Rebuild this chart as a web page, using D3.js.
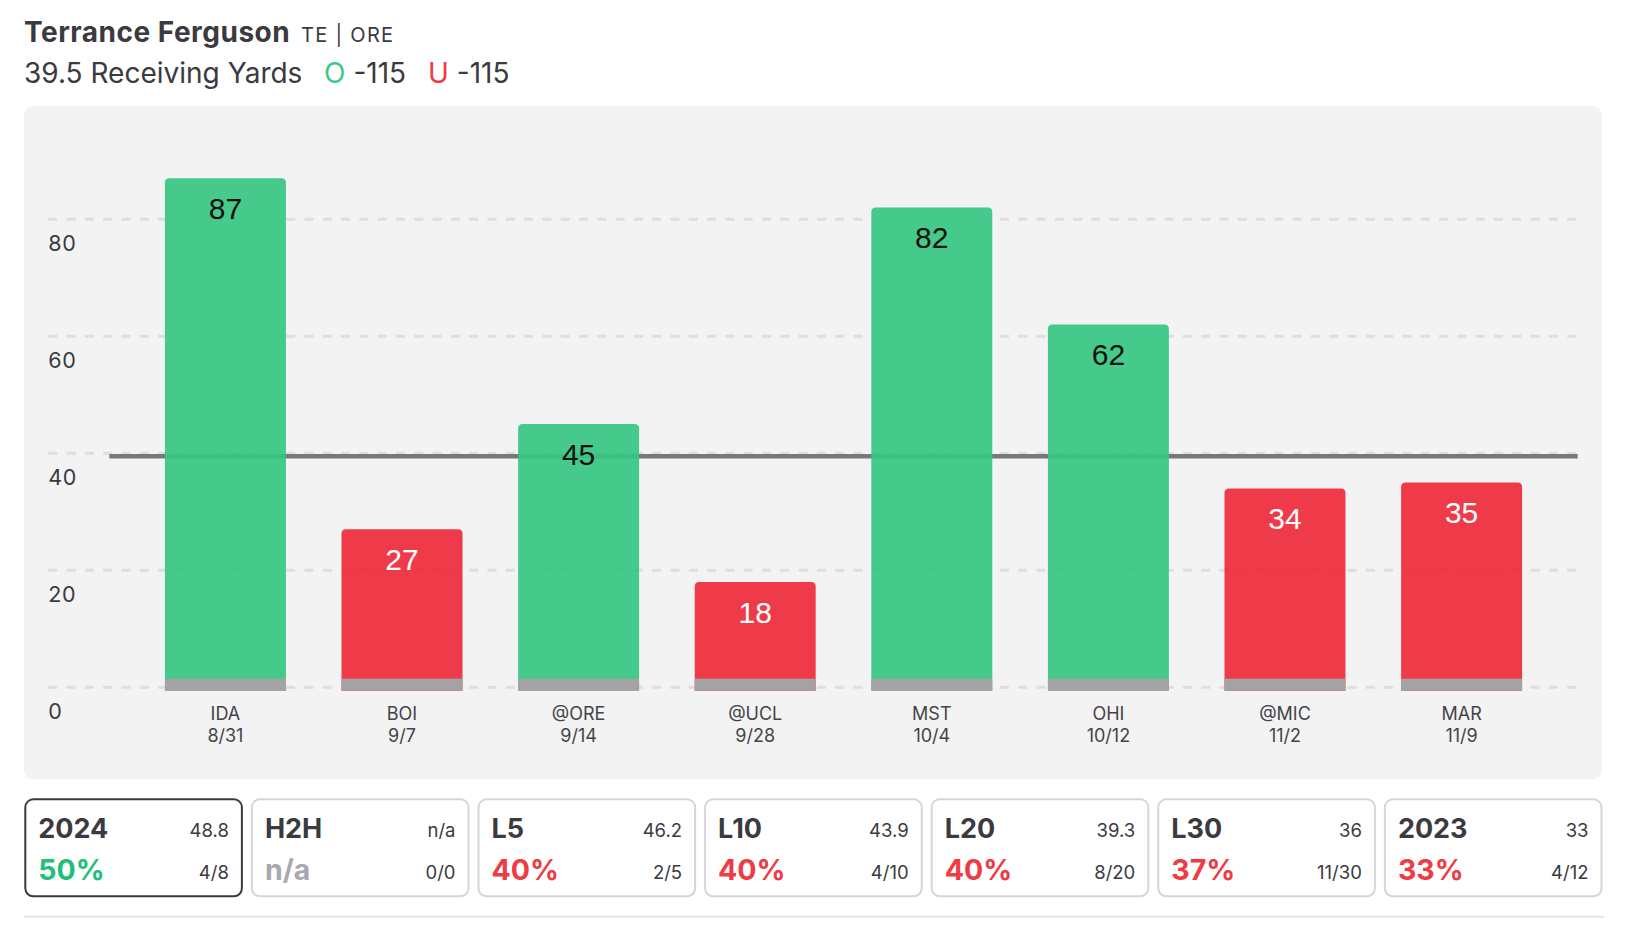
<!DOCTYPE html>
<html>
<head>
<meta charset="utf-8">
<script src="https://cdn.jsdelivr.net/npm/d3@7/dist/d3.min.js"></script>
<style>
  html, body { margin: 0; padding: 0; background: #ffffff; }
  svg { display: block; }
  text { font-family: Inter, "Open Sans", sans-serif; }
</style>
</head>
<body>
<svg id="chart" width="1636" height="938"></svg>
<script>
// ---- Data ----
const playerName = "Terrance Ferguson";
const playerTeam = "TE | ORE";
const propLabel = "39.5 Receiving Yards";
const overOdds = "-115";
const underOdds = "-115";
const propLine = 39.5;

const opponents = ["IDA", "BOI", "@ORE", "@UCL", "MST", "OHI", "@MIC", "MAR"];
const gameDates = ["8/31", "9/7", "9/14", "9/28", "10/4", "10/12", "11/2", "11/9"];
const yards = [87, 27, 45, 18, 82, 62, 34, 35];
const yTicks = [0, 20, 40, 60, 80];

const cardLabels = ["2024", "H2H", "L5", "L10", "L20", "L30", "2023"];
const cardAverages = ["48.8", "n/a", "46.2", "43.9", "39.3", "36", "33"];
const cardPercents = ["50%", "n/a", "40%", "40%", "40%", "37%", "33%"];
const cardRecords = ["4/8", "0/0", "2/5", "4/10", "8/20", "11/30", "4/12"];
const cardStatus = ["over", "none", "under", "under", "under", "under", "under"];

// ---- Styles ----
const GREEN = "#38c683";
const RED = "#ee2c3b";
const TEXT = "#3a3a40";

const svg = d3.select("#chart");

// Header
svg.append("text").attr("x", 24).attr("y", 42.3)
  .attr("font-size", 28).attr("font-weight", 700).attr("fill", TEXT)
  .attr("letter-spacing", 0.5)
  .text(playerName);
svg.append("text").attr("x", 301).attr("y", 41.7)
  .attr("font-size", 20).attr("fill", TEXT)
  .attr("letter-spacing", 1.3)
  .text(playerTeam);

const sub = svg.append("text").attr("x", 24).attr("y", 83.3)
  .attr("font-size", 28).attr("fill", TEXT);
sub.append("tspan").text(propLabel);
sub.append("tspan").attr("x", 324).attr("fill", "#3cc88a").text("O");
sub.append("tspan").attr("dx", 8).text(overOdds);
sub.append("tspan").attr("x", 428).attr("fill", "#ee3b44").text("U");
sub.append("tspan").attr("dx", 8).text(underOdds);

// Panel
svg.append("rect").attr("x", 24).attr("y", 106).attr("width", 1578).attr("height", 673.5)
  .attr("rx", 9).attr("fill", "#f3f3f3");

// Scales
const y = d3.scaleLinear().domain([0, 80]).range([687.3, 219.3]);
const x = d3.scaleBand().domain(opponents).range([109.3, 1577.7]).padding(0.315);
const bw = x.bandwidth();

// Gridlines
svg.append("g").selectAll("line").data(yTicks).join("line")
  .attr("x1", 48.3).attr("x2", 1578)
  .attr("y1", d => y(d)).attr("y2", d => y(d))
  .attr("stroke", "#dedede").attr("stroke-width", 3)
  .attr("stroke-dasharray", "9,9.3");

// Y axis labels
const yAxis = svg.append("g").attr("transform", "translate(48.3,0)")
  .call(d3.axisRight(y).tickValues(yTicks).tickSize(0).tickPadding(0));
yAxis.select(".domain").remove();
yAxis.selectAll("text")
  .attr("font-family", "Inter, 'Open Sans', sans-serif")
  .attr("font-size", 21.5).attr("fill", TEXT)
  .attr("letter-spacing", 0.6)
  .attr("dy", null).attr("y", 31).attr("x", 0)
  .attr("text-anchor", "start");

// Threshold line
svg.append("line")
  .attr("x1", 109.3).attr("x2", 1577.7)
  .attr("y1", y(propLine)).attr("y2", y(propLine))
  .attr("stroke", "#787878").attr("stroke-width", 4.5);

// Bars
const baseBottom = y(0) + 3.4;
function topRounded(x0, y0, w, y1, r) {
  return `M${x0},${y1}V${y0 + r}Q${x0},${y0} ${x0 + r},${y0}H${x0 + w - r}Q${x0 + w},${y0} ${x0 + w},${y0 + r}V${y1}Z`;
}
const data = opponents.map((o, i) => ({ opp: o, date: gameDates[i], v: yards[i] }));

svg.append("g").selectAll("path").data(data).join("path")
  .attr("d", d => topRounded(x(d.opp), y(d.v), bw, baseBottom, 4.5))
  .attr("fill", d => d.v > propLine ? GREEN : RED)
  .attr("fill-opacity", 0.93);

svg.append("g").selectAll("rect").data(data).join("rect")
  .attr("x", d => x(d.opp)).attr("width", bw)
  .attr("y", baseBottom - 12).attr("height", 12)
  .attr("fill", "#a3a3a3");

// Value labels
svg.append("g").selectAll("text").data(data).join("text")
  .attr("x", d => x(d.opp) + bw / 2)
  .attr("y", d => y(d.v) + 40.6)
  .attr("text-anchor", "middle")
  .attr("font-size", 30)
  .attr("fill", d => d.v > propLine ? "#111111" : "#ffffff")
  .style("font-family", "'Liberation Sans', Arial, sans-serif")
  .text(d => d.v);

// X labels
const xl = svg.append("g").selectAll("text").data(data).join("text")
  .attr("text-anchor", "middle")
  .attr("font-size", 18).attr("fill", "#444448");
xl.append("tspan").attr("x", d => x(d.opp) + bw / 2).attr("y", 720).text(d => d.opp);
xl.append("tspan").attr("x", d => x(d.opp) + bw / 2).attr("y", 741.7).text(d => d.date);

// Cards
const cardW = 218.6, cardGap = 8, cardX0 = 24.3, cardY = 798.3, cardH = 99;
const cards = cardLabels.map((l, i) => ({
  label: l, avg: cardAverages[i], pct: cardPercents[i], rec: cardRecords[i], status: cardStatus[i], i
}));
const cg = svg.append("g").selectAll("g").data(cards).join("g")
  .attr("transform", d => `translate(${cardX0 + d.i * (cardW + cardGap)},${cardY})`);
cg.append("rect")
  .attr("x", 1).attr("y", 1).attr("width", cardW - 2).attr("height", cardH - 2)
  .attr("rx", 8).attr("fill", "#ffffff")
  .attr("stroke", d => d.i === 0 ? "#3a3a40" : "#d6d6da").attr("stroke-width", 2);
cg.append("text").attr("x", 14).attr("y", 40)
  .attr("font-size", 27).attr("font-weight", 700).attr("fill", TEXT)
  .text(d => d.label);
cg.append("text").attr("x", cardW - 14).attr("y", 38.4)
  .attr("text-anchor", "end").attr("font-size", 18.5).attr("fill", TEXT)
  .text(d => d.avg);
cg.append("text").attr("x", 14).attr("y", 81.7)
  .attr("font-size", 28.5).attr("font-weight", 700)
  .attr("fill", d => d.status === "over" ? "#1dbf7a" : d.status === "under" ? "#ee3b44" : "#a8a8ad")
  .text(d => d.pct);
cg.append("text").attr("x", cardW - 14).attr("y", 80.7)
  .attr("text-anchor", "end").attr("font-size", 18.5).attr("fill", TEXT)
  .text(d => d.rec);

// Bottom rule
svg.append("line").attr("x1", 24).attr("x2", 1604).attr("y1", 916.7).attr("y2", 916.7)
  .attr("stroke", "#e6e6e6").attr("stroke-width", 2);
</script>
</body>
</html>
